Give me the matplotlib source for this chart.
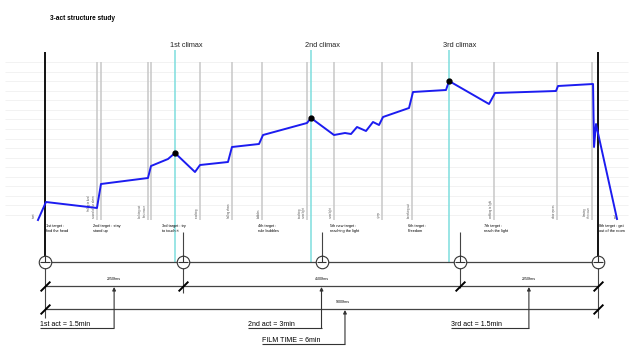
import numpy as np
import matplotlib.pyplot as plt
from matplotlib.path import Path

plt.rcParams['font.family'] = ['Liberation Sans', 'DejaVu Sans']

# film time in frames (25 fps) -> 9000 frames = 6 min
act_bounds = [0, 2250, 4500, 6750, 9000]
act_mids = [1125, 4500, 7875]
act_fms = ["2250fms", "4500fms", "2250fms"]
act_labels = ["1st act = 1.5min", "2nd act = 3min", "3rd act = 1.5min"]
act_label_x = [-80, 3300, 6610]

climax_x = [2116, 4329, 6575]
climax_y = [109, 144, 181]
climax_names = ["1st climax", "2nd climax", "3rd climax"]

# tension curve
curve_x = [-114, 16, 846, 911, 1676, 1725, 2002, 2116, 2441, 2523, 2978, 3043,
           3483, 3548, 4264, 4329, 4703, 4882, 4980, 5078, 5224, 5338, 5436,
           5501, 5924, 5989, 6526, 6575, 7226, 7324, 8316, 8349, 8919, 8935,
           8967, 9309]
curve_y = [42, 60, 54, 78, 84, 96, 103, 109, 90, 97, 100, 115, 118, 127, 139,
           144, 127, 129, 128, 135, 131, 140, 137, 145, 154, 170, 172, 181,
           158, 169, 171, 176, 178, 115, 138, 43]

# beats (grey lines)
beat_x = [846, 911, 1676, 1725, 2523, 3043, 3531, 4264, 4703, 5484, 5973,
          7307, 8332, 8902]
beat_notes = ["hiding in bed\nsound of the alarm", "", "looking out\nfirst move", "",
              "reaching", "falling down", "bubbles", "touching\nnew light", "new light",
              "jump", "breaking out", "walking to light", "door opens",
              "leaving\nthe room"]

targets = ["1st target :\nfind the head", "2nd target : stay\nstand up",
           "3rd target : try\nto touch it", "4th target :\nrule bubbles",
           "5th new target :\nreaching the light", "6th target :\nFreedom",
           "7th target :\nreach the light", "8th target : get\nout of the room"]
target_x = [16, 781, 1900, 3466, 4638, 5908, 7143, 9016]

film_label = "FILM TIME = 6min"
film_fms = "9000fms"

fig = plt.figure(figsize=(6.4, 3.6), dpi=100)
ax = fig.add_axes([0, 0, 1, 1])
ax.set_xlim(-732, 9683)
ax.set_ylim(-98, 262)
ax.axis("off")

# faint horizontal guide lines
ax.hlines(np.linspace(47, 200, 17), -650, 9480, color="#f0f0f0", lw=0.6, zorder=0)

# beats
ax.vlines(beat_x, 42, 200, color="#c8c8c8", lw=1.1, zorder=1)
for bx, note in zip(beat_x, beat_notes):
    ax.text(bx - 20, 44, note, rotation=90, fontsize=2, color="#555555",
            ha="right", va="bottom", linespacing=1.1)
ax.text(-140, 44, "start", rotation=90, fontsize=2, color="#555555", ha="right", va="bottom")
ax.text(9330, 44, "end", rotation=90, fontsize=2, color="#555555", ha="right", va="bottom")

# climaxes
ax.vlines(climax_x, 0, 212, color="#7fdede", lw=1.1, zorder=2)
for cx, name in zip(climax_x, climax_names):
    ax.text(cx + 180, 213, name, fontsize=5.3, ha="center", va="bottom", color="#222222")

# start / end lines
ax.vlines([act_bounds[0], act_bounds[-1]], 0, 210, color="#111111", lw=1.4, zorder=3)
ax.vlines(act_bounds[1:-1], 0, 30, color="#444444", lw=0.8, zorder=1)

# curve
ax.plot(curve_x, curve_y, color="#1c1cf0", lw=1.4, zorder=4)
ax.plot(climax_x, climax_y, "o", color="black", ms=3.5, zorder=5)

# targets
for tx, t in zip(target_x, targets):
    ax.text(tx, 38, t, fontsize=2.8, ha="left", va="top", linespacing=1.3)

# act axis with circles
ax.hlines(0, act_bounds[0], act_bounds[-1], color="#444444", lw=0.9)
ax.plot(act_bounds, [0] * 5, "o", mfc="white", mec="#333333", ms=9, mew=0.8, zorder=6)
ax.vlines(act_bounds, 0, 7, color="#333333", lw=0.8, zorder=7)
ax.hlines([0] * 5, [b - 80 for b in act_bounds], [b + 80 for b in act_bounds],
          color="#333333", lw=0.8, zorder=7)

# dimension lines
slash = Path([(-1, -1), (1, 1)])
y1, y2 = -24, -47
ax.hlines([y1, y2], act_bounds[0], act_bounds[-1], color="#444444", lw=0.9)
ax.vlines([act_bounds[0], act_bounds[-1]], -56, -5, color="#444444", lw=0.8)
ax.vlines(act_bounds[1], -31, -5, color="#444444", lw=0.8)
ax.vlines(act_bounds[3], -26, -5, color="#444444", lw=0.8)
ax.plot([act_bounds[0], act_bounds[1], act_bounds[3], act_bounds[4]], [y1] * 4,
        ls="none", marker=slash, ms=7, mew=1.4, color="black")
ax.plot([act_bounds[0], act_bounds[4]], [y2] * 2, ls="none", marker=slash,
        ms=7, mew=1.4, color="black")

for mx, fms, lab, lx in zip(act_mids, act_fms, act_labels, act_label_x):
    ax.text(mx, y1 + 5, fms, fontsize=2.6, ha="center", va="bottom")
    ax.annotate("", xy=(mx, y1 - 1), xytext=(mx, -66),
                arrowprops=dict(arrowstyle="-|>", color="#333333", lw=0.8,
                                mutation_scale=5, shrinkA=0, shrinkB=0))
    ax.hlines(-66, lx, mx, color="#333333", lw=0.8)
    ax.text(lx, -65.5, lab, fontsize=5, ha="left", va="bottom")

film_x = 4882
ax.text(film_x - 30, y2 + 5, film_fms, fontsize=2.6, ha="center", va="bottom")
ax.annotate("", xy=(film_x, y2 - 1), xytext=(film_x, -82),
            arrowprops=dict(arrowstyle="-|>", color="#333333", lw=0.8,
                            mutation_scale=5, shrinkA=0, shrinkB=0))
ax.hlines(-82, 3530, film_x, color="#333333", lw=0.8)
ax.text(3530, -81.5, film_label, fontsize=5, ha="left", va="bottom")

fig.text(50 / 640, 1 - 18 / 360, "3-act structure study", fontsize=4.7,
         fontweight="bold", ha="left", va="center")

fig.savefig("out.png", dpi=100)
